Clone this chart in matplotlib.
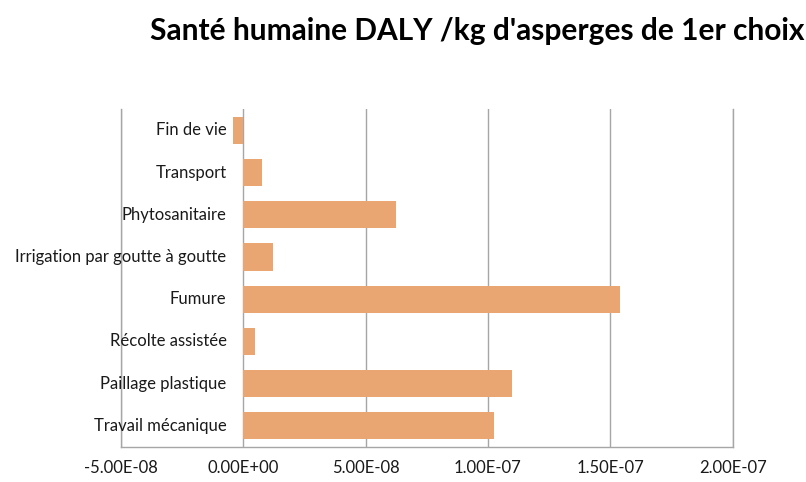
import matplotlib; matplotlib.use("Agg")
import matplotlib.pyplot as plt
from matplotlib.ticker import FuncFormatter

plt.rcParams['font.family'] = ['Lato', 'DejaVu Sans']

# ── Data ──────────────────────────────────────────────────────────────────
categories = ["Fin de vie", "Transport", "Phytosanitaire",
              "Irrigation par goutte à goutte", "Fumure",
              "Récolte assistée", "Paillage plastique", "Travail mécanique"]
values = [-4.0e-9, 7.8e-9, 6.24e-8, 1.2e-8, 1.54e-7, 4.9e-9, 1.10e-7, 1.023e-7]
xticks = [-5e-8, 0, 5e-8, 1e-7, 1.5e-7, 2e-7]

BAR_COLOR  = "#E9A572"
GRID_COLOR = "#A6A6A6"
TEXT_COLOR = "#1a1a1a"

fig = plt.figure(figsize=(8.06, 4.82), dpi=100)
ax = fig.add_axes([0.150, 0.0725, 0.759, 0.701])

ypos = list(range(len(categories)))[::-1]
ax.barh(ypos, values, height=0.64, color=BAR_COLOR, zorder=3)

ax.set_xlim(xticks[0], xticks[-1])
ax.set_ylim(-0.5, len(categories) - 0.5)
ax.set_xticks(xticks)
ax.xaxis.set_major_formatter(FuncFormatter(lambda v, p: f"{v:.2E}"))
ax.set_yticks([])
ax.tick_params(axis="x", length=0, pad=9, labelsize=12, labelcolor=TEXT_COLOR)

# category labels sit next to the zero line, like Excel
for y, lab in zip(ypos, categories):
    ax.annotate(lab, xy=(0, y), xytext=(-12, 0), textcoords="offset points",
                ha="right", va="center", fontsize=12, color=TEXT_COLOR,
                annotation_clip=False)

ax.grid(axis="x", color=GRID_COLOR, linewidth=1, zorder=0)
ax.spines["top"].set_visible(False)
for s in ["bottom", "left", "right"]:
    ax.spines[s].set_color(GRID_COLOR)
    ax.spines[s].set_linewidth(1)

fig.text(0.592, 0.935, "Santé humaine DALY /kg d'asperges de 1er choix",
         ha="center", va="center", fontsize=21.5, fontweight="bold", color="black")

fig.savefig("out.png", dpi=100)
